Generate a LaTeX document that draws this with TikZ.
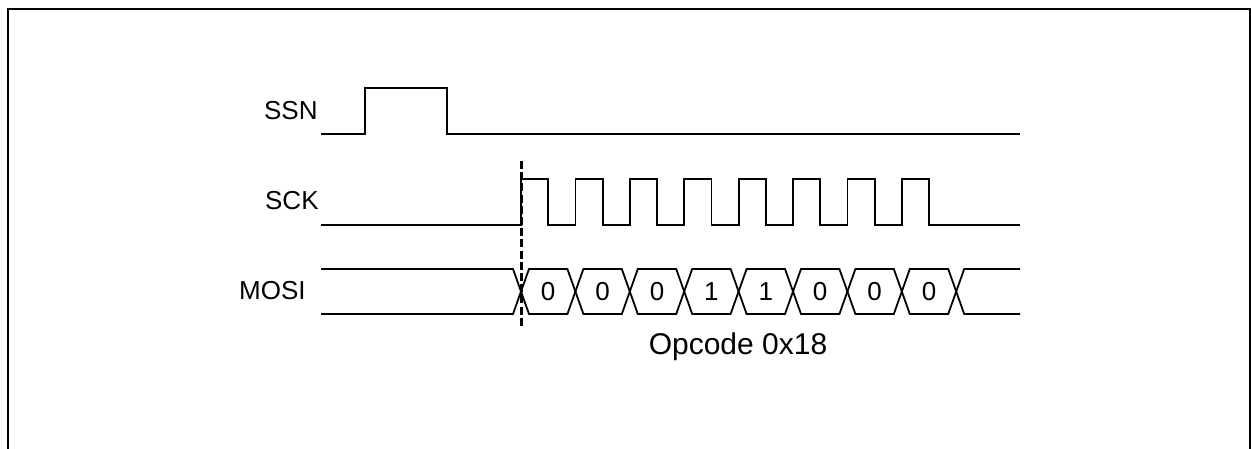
\documentclass[tikz,border=0pt]{standalone}
\usepackage{fontspec}
\setmainfont{Liberation Sans}
\begin{document}
\begin{tikzpicture}[x=0.5pt, y=-0.5pt, line join=miter,
  every node/.style={font=\fontsize{13}{15}\selectfont, inner sep=0pt},
  wave/.style={line width=0.9pt, black},
  frame/.style={line width=1pt, black},
  marker/.style={line width=1.5pt, dash pattern=on 4pt off 1.6pt}]
  \useasboundingbox (0,0) rectangle (1251,449);
  % open frame
  \draw[frame] (8,449) -- (8,9) -- (1250,9) -- (1250,449);
  % signal names
  \node[anchor=east] (ssn) at (318,111) {SSN};
  \node[anchor=east] (sck) at (319,201) {SCK};
  \node[anchor=east] (mosi) at (306,291) {MOSI};
  % SSN pulse
  \draw[wave] (321,134) -- (365,134) -- (365,88) -- (447,88) -- (447,134) -- (1020,134);
  % SCK, 8 clocks
  \draw[wave] (321,225) -- (521,225)
    \foreach \k in {0,...,7}{ -- ++(0,-46) -- ++(27.2,0) -- ++(0,46) -- ++(27.2,0)}
    -- (1020,225);
  % MOSI bus
  \draw[wave] (321,269) -- (513,269) -- (521,291.5) -- (513,314) -- (321,314);
  \foreach \b [count=\i from 0] in {0,0,0,1,1,0,0,0}{
    \pgfmathsetmacro{\xa}{521+54.4*\i}
    \pgfmathsetmacro{\xb}{\xa+54.4}
    \draw[wave] (\xa,291.5) -- (\xa+8,269) -- (\xb-8,269) -- (\xb,291.5)
      -- (\xb-8,314) -- (\xa+8,314) -- cycle;
    \node (bit\i) at ({(\xa+\xb)/2},291.5) {\b};
  }
  \draw[wave] (1020,269) -- (964.2,269) -- (956.2,291.5) -- (964.2,314) -- (1020,314);
  \node[font=\fontsize{15}{17}\selectfont] (opcode) at (738,347) {Opcode 0x18};
  % start of transfer
  \draw[marker] (521,161) -- (521,327);
\end{tikzpicture}
\end{document}
